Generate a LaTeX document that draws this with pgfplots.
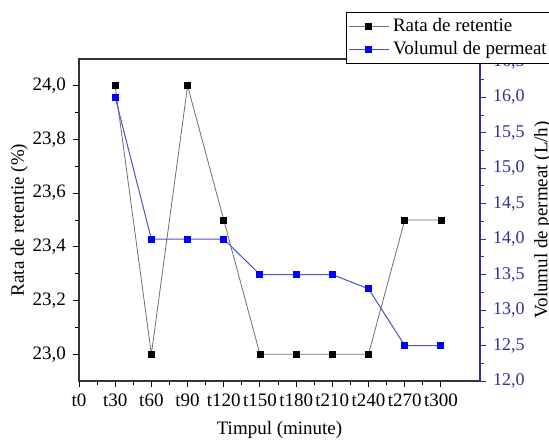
\documentclass[border=0pt]{standalone}
\usepackage{pgfplots}
\pgfplotsset{compat=1.18}
\usepackage{fontspec}
\setmainfont{Liberation Serif}
\definecolor{axblue}{RGB}{50,50,150}
\definecolor{lineblue}{RGB}{80,80,200}
\definecolor{linegray}{RGB}{110,110,110}
\begin{document}
\begin{tikzpicture}
\pgfplotsset{
  every axis/.append style={
    scale only axis, width=200.5pt, height=161pt,
    xmin=0, xmax=11.08,
    font=\fontsize{9.5}{11}\selectfont,
    /pgf/number format/assume math mode=true,
    /pgf/number format/use comma,
    /pgf/number format/fixed,
    /pgf/number format/fixed zerofill,
    /pgf/number format/precision=1,
    tick align=outside,
    major tick length=3pt, minor tick length=1.8pt,
    every tick/.style={line width=0.5pt},
  },
}
\begin{axis}[
  name=ax,
  ymin=22.9, ymax=24.1,
  ytick={23.0,23.2,23.4,23.6,23.8,24.0},
  minor y tick num=1,
  xtick={0,1,2,3,4,5,6,7,8,9,10},
  xticklabels={t0,t30,t60,t90,t120,t150,t180,t210,t240,t270,t300},
  minor x tick num=1,
  xtick pos=bottom, ytick pos=left,
  axis line style={line width=0.6pt, black!80},
  xlabel={Timpul (minute)},
  ylabel={Rata de retentie (\%)},
  xlabel style={yshift=-0.5pt},
  ylabel shift=-4.5pt,
]
\addplot[linegray, line width=0.4pt, mark=square*, mark size=1.5pt, mark options={black, fill=black}]
coordinates {(1,24.0)(2,23.0)(3,24.0)(4,23.5)(5,23.0)(6,23.0)(7,23.0)(8,23.0)(9,23.5)(10,23.5)};
\end{axis}
\begin{axis}[
  ymin=12, ymax=16.54,
  axis y line*=right, axis x line=none,
  ytick={12.0,12.5,13.0,13.5,14.0,14.5,15.0,15.5,16.0,16.5},
  minor y tick num=1,
  y axis line style={axblue, line width=0.6pt},
  y tick style={axblue},
  yticklabel style={axblue, font=\fontsize{9}{10}\selectfont},
  ylabel={Volumul de permeat (L/h)},
  ylabel shift=-2pt,
  legend style={at={(0.665,1.145)}, anchor=north west, draw=black, fill=white,
    font=\fontsize{9.5}{11}\selectfont, inner sep=1pt, row sep=-1pt,
    line width=0.5pt},
  legend cell align=left,
  legend image code/.code={\draw[mark repeat=2,mark phase=2] plot coordinates {(0cm,0cm) (0.35cm,0cm) (0.7cm,0cm)};},
]
\addlegendimage{linegray, line width=0.4pt, mark=square*, mark size=1.5pt, mark options={black, fill=black}}
\addlegendentry{Rata de retentie}
\addplot[lineblue, line width=0.5pt, mark=square*, mark size=1.5pt, mark options={blue, fill=blue}]
coordinates {(1,16.0)(2,14.0)(3,14.0)(4,14.0)(5,13.5)(6,13.5)(7,13.5)(8,13.3)(9,12.5)(10,12.5)};
\addlegendentry{Volumul de permeat}
\end{axis}
\pgfresetboundingbox
\path ([shift={(-39.5pt,-29pt)}]ax.south west) rectangle ([shift={(34.5pt,29.5pt)}]ax.north east);
\end{tikzpicture}
\end{document}
